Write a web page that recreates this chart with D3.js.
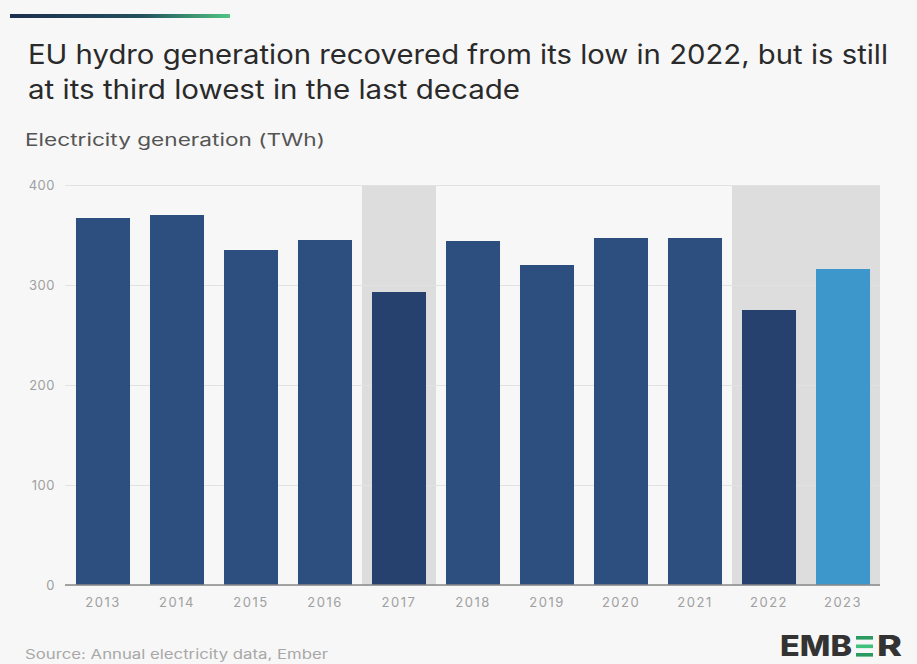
<!DOCTYPE html>
<html><head><meta charset="utf-8">
<script src="https://cdn.jsdelivr.net/npm/d3@7"></script>
<style>body{margin:0;background:#f7f7f7;} svg{display:block;font-family:Inter, "Noto Sans", sans-serif;}</style>
</head><body>
<script>
const years = ["2013","2014","2015","2016","2017","2018","2019","2020","2021","2022","2023"];
const generation = [367, 370, 335, 345, 293, 344, 320, 347, 347, 275, 316];
const highlightYears = [["2017","2017"],["2022","2023"]];
const yTicks = [0,100,200,300,400];
const title = ["EU hydro generation recovered from its low in 2022, but is still","at its third lowest in the last decade"];
const titleLengths = [860, 492];

const W=917,H=664;
const svg=d3.select("body").append("svg").attr("width",W).attr("height",H);
svg.append("rect").attr("width",W).attr("height",H).attr("fill","#f7f7f7");

const grad=svg.append("defs").append("linearGradient").attr("id","g");
grad.append("stop").attr("offset","0%").attr("stop-color","#1c2e4f");
grad.append("stop").attr("offset","60%").attr("stop-color","#23505c");
grad.append("stop").attr("offset","100%").attr("stop-color","#4fc483");
svg.append("rect").attr("x",10).attr("y",14).attr("width",220).attr("height",4).attr("fill","url(#g)");

svg.selectAll("text.title").data(title).join("text").attr("class","title")
 .attr("x",28).attr("y",(d,i)=>64+i*35).attr("font-size",26.5).attr("fill","#2a2a2a")
 .attr("textLength",(d,i)=>titleLengths[i]).attr("lengthAdjust","spacingAndGlyphs").text(d=>d);
svg.append("text").attr("x",25).attr("y",146).attr("font-size",17).attr("fill","#555")
 .attr("textLength",300).attr("lengthAdjust","spacingAndGlyphs").text("Electricity generation (TWh)");

const x=d3.scaleBand().domain(years).range([66,880]).paddingInner(0.27).paddingOuter(0.135);
const y=d3.scaleLinear().domain([0,400]).range([585,185]);

const step=x.step();
svg.selectAll("rect.hl").data(highlightYears).join("rect")
 .attr("x",d=>x(d[0])-x.paddingInner()*step/2).attr("y",y(400))
 .attr("width",d=>x(d[1])-x(d[0])+step).attr("height",y(0)-y(400)).attr("fill","#dddddd");

const yAxis=svg.append("g").attr("transform","translate(65,0)")
 .call(d3.axisLeft(y).tickValues(yTicks).tickSize(0).tickPadding(10));
yAxis.select(".domain").remove();
yAxis.selectAll(".tick line").attr("stroke","#e2e2e2").attr("x1",0).attr("x2",815);
yAxis.selectAll(".tick text").attr("fill","#a0a0a0").attr("font-size",13).attr("letter-spacing",0.5).attr("font-family","Inter, sans-serif");

svg.selectAll("rect.bar").data(years).join("rect").attr("class","bar")
 .attr("x",d=>x(d)).attr("width",x.bandwidth())
 .attr("y",(d,i)=>y(generation[i])).attr("height",(d,i)=>y(0)-y(generation[i]))
 .attr("fill",d=>d==="2023"?"#3d97cb":(d==="2017"||d==="2022")?"#26416d":"#2d4f80");

svg.append("line").attr("x1",65).attr("x2",880).attr("y1",y(0)).attr("y2",y(0)).attr("stroke","#888").attr("stroke-width",1.5);

const xAxis=svg.append("g").attr("transform",`translate(0,${y(0)})`).call(d3.axisBottom(x).tickSize(0).tickPadding(13));
xAxis.select(".domain").remove();
xAxis.selectAll(".tick text").attr("fill","#a0a0a0").attr("font-size",13).attr("letter-spacing",1.5).attr("font-family","Inter, sans-serif");

svg.append("text").attr("x",25).attr("y",659).attr("font-size",13).attr("fill","#a8a8a8")
 .attr("textLength",303).attr("lengthAdjust","spacingAndGlyphs").text("Source: Annual electricity data, Ember");

const logo=svg.append("g");
logo.append("text").attr("x",780).attr("y",656).attr("font-size",28).attr("font-weight",800).attr("fill","#333")
 .attr("font-family","Inter, sans-serif").attr("textLength",72).attr("lengthAdjust","spacingAndGlyphs").text("EMB");
logo.append("text").attr("x",877).attr("y",656).attr("font-size",28).attr("font-weight",800).attr("fill","#333")
 .attr("font-family","Inter, sans-serif").attr("textLength",25).attr("lengthAdjust","spacingAndGlyphs").text("R");
[0,1,2].forEach(i=>logo.append("rect").attr("x",856).attr("y",636+i*8.5).attr("width",17).attr("height",3.6).attr("fill", i==1?"#3fc07d":"#2a9a60"));
</script>
</body></html>
